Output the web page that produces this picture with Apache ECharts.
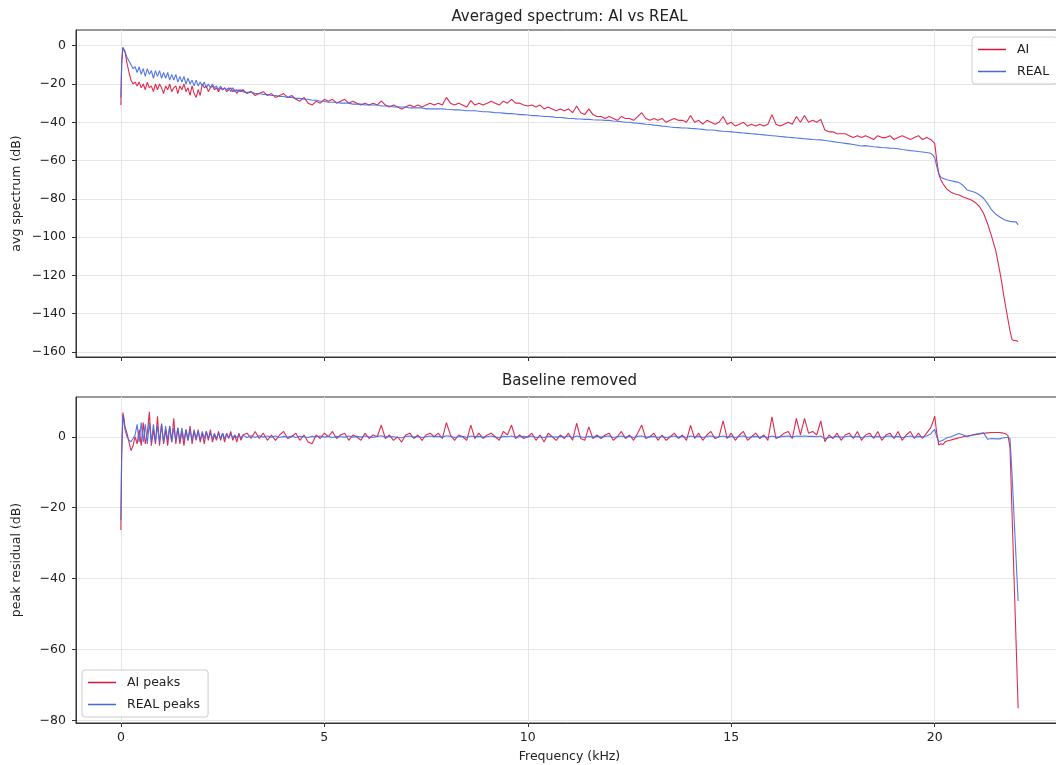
<!DOCTYPE html>
<html><head><meta charset="utf-8">
<script src="https://cdn.jsdelivr.net/npm/echarts@6/dist/echarts.min.js"></script>
<style>html,body{margin:0;padding:0;background:#fff;}#c{width:1056px;height:765px;}</style>
</head><body><div id="c"></div>
<script>
// Frequency grid (kHz)
const freq = [
 0, 0.02, 0.05, 0.08, 0.1, 0.15, 0.2, 0.25, 0.3, 0.35,
 0.4, 0.45, 0.5, 0.55, 0.6, 0.65, 0.7, 0.75, 0.8, 0.85,
 0.9, 0.95, 1.0, 1.05, 1.1, 1.15, 1.2, 1.25, 1.3, 1.35,
 1.4, 1.45, 1.5, 1.55, 1.6, 1.65, 1.7, 1.75, 1.8, 1.85,
 1.9, 1.95, 2.0, 2.05, 2.1, 2.15, 2.2, 2.25, 2.3, 2.35,
 2.4, 2.45, 2.5, 2.55, 2.6, 2.65, 2.7, 2.75, 2.8, 2.85,
 2.9, 2.95, 3.0, 3.1, 3.2, 3.3, 3.4, 3.5, 3.6, 3.7,
 3.8, 3.9, 4.0, 4.1, 4.2, 4.3, 4.4, 4.5, 4.6, 4.7,
 4.8, 4.9, 5.0, 5.1, 5.2, 5.3, 5.4, 5.5, 5.6, 5.7,
 5.8, 5.9, 6.0, 6.1, 6.2, 6.3, 6.4, 6.5, 6.6, 6.7,
 6.8, 6.9, 7.0, 7.1, 7.2, 7.3, 7.4, 7.5, 7.6, 7.7,
 7.8, 7.9, 8.0, 8.1, 8.2, 8.3, 8.4, 8.5, 8.6, 8.7,
 8.8, 8.9, 9.0, 9.1, 9.2, 9.3, 9.4, 9.5, 9.6, 9.7,
 9.8, 9.9, 10.0, 10.1, 10.2, 10.3, 10.4, 10.5, 10.6, 10.7,
 10.8, 10.9, 11.0, 11.1, 11.2, 11.3, 11.4, 11.5, 11.6, 11.7,
 11.8, 11.9, 12.0, 12.1, 12.2, 12.3, 12.4, 12.5, 12.6, 12.7,
 12.8, 12.9, 13.0, 13.1, 13.2, 13.3, 13.4, 13.5, 13.6, 13.7,
 13.8, 13.9, 14.0, 14.1, 14.2, 14.3, 14.4, 14.5, 14.6, 14.7,
 14.8, 14.9, 15.0, 15.1, 15.2, 15.3, 15.4, 15.5, 15.6, 15.7,
 15.8, 15.9, 16.0, 16.1, 16.2, 16.3, 16.4, 16.5, 16.6, 16.7,
 16.8, 16.9, 17.0, 17.1, 17.2, 17.3, 17.4, 17.5, 17.6, 17.7,
 17.8, 17.9, 18.0, 18.1, 18.2, 18.3, 18.4, 18.5, 18.6, 18.7,
 18.8, 18.9, 19.0, 19.1, 19.2, 19.3, 19.4, 19.5, 19.6, 19.7,
 19.8, 19.9, 19.95, 20.0, 20.05, 20.1, 20.15, 20.2, 20.25, 20.3,
 20.4, 20.5, 20.6, 20.7, 20.8, 20.9, 21.0, 21.1, 21.2, 21.3,
 21.4, 21.5, 21.6, 21.65, 21.7, 21.75, 21.8, 21.85, 21.9, 21.95,
 22.0, 22.05
];

// Averaged spectrum, AI (dB)
const aiAvg = [
 -31, -10, -1, 0, -3, -9, -14, -18, -20, -19,
 -21, -19, -22, -20, -23, -19, -22, -21, -24, -20,
 -23, -20, -22, -25, -21, -23, -20, -24, -22, -21,
 -25, -21, -23, -20, -24, -22, -26, -21, -25, -27,
 -23, -26, -20, -22, -21, -24, -22, -21, -23, -22,
 -24, -22, -23, -22, -24, -23, -22, -24, -23, -25,
 -23, -24, -23, -25, -24, -26, -25, -24, -26, -25,
 -27, -26, -25, -27, -26, -28, -29, -27, -30, -31,
 -29, -30, -28, -29, -28, -30, -29, -28, -30, -29,
 -30, -31, -30, -31, -30, -31, -28.8, -31, -32, -31,
 -32, -33, -32, -31, -32, -31, -32, -31, -30, -31,
 -30, -31, -27, -30, -31, -30, -31, -32, -28.7, -31,
 -30, -31, -30, -29, -30, -31, -29, -30, -28, -30,
 -30, -31, -31.5, -31, -32, -31, -33, -32, -33, -34,
 -33, -34, -33, -35, -31.5, -35, -36, -33, -36, -37,
 -37, -38, -37, -38, -39, -37, -38, -38, -39, -37,
 -35, -38, -39, -38, -39, -38, -40, -39, -38, -39,
 -39, -40, -36.5, -40, -39, -41, -39, -40, -41, -40,
 -37, -41, -40, -42, -41, -40, -42, -41, -42, -41,
 -42, -41, -36, -41, -42, -41, -40, -41, -37, -40,
 -36.5, -40, -39, -40, -38.5, -44, -45, -45, -46, -46,
 -46, -47, -48, -47, -48, -47, -48, -49, -47, -48,
 -48, -47, -49, -48, -47, -48, -49, -48, -47, -49,
 -48, -49, -50, -51, -60, -67, -70, -72, -73.5, -75,
 -76.5, -77.5, -78, -79, -79.8, -80.6, -82, -84, -87.5, -93,
 -99.7, -107, -118, -124, -131, -137, -143, -149, -153.5, -154,
 -154, -154.5
];

// Averaged spectrum, REAL (dB)
const realAvg = [
 -27, -8, -1, 0, -3, -6, -8, -10, -12, -11,
 -14, -11, -15, -12, -16, -12, -15, -13, -17, -13,
 -16, -13, -17, -14, -17, -14, -18, -15, -18, -15,
 -19, -16, -19, -16, -20, -17, -20, -18, -21, -18,
 -21, -19, -21, -19, -22, -20, -22, -20, -22, -21,
 -23, -21, -23, -22, -23, -22, -24, -22, -24, -23,
 -24, -23, -24, -24.5, -24, -25, -25, -25.5, -25.5, -26,
 -26, -26.5, -26.5, -27, -27, -27.5, -27.5, -28, -28, -28.5,
 -28.5, -29, -29, -29.5, -29.5, -29.5, -30, -30, -30, -30.5,
 -30.5, -30.5, -31, -31, -31, -31, -31.5, -31.5, -31.5, -32,
 -32, -32, -32, -32.5, -32.5, -32.5, -32.5, -33, -33, -33,
 -33, -33, -33.2, -33.3, -33.5, -33.5, -33.7, -34, -34, -34,
 -34.2, -34.5, -34.5, -34.7, -35, -35, -35.2, -35.5, -35.5, -35.7,
 -36, -36, -36.2, -36.5, -36.5, -36.7, -37, -37, -37.2, -37.5,
 -37.5, -37.7, -38, -38, -38.2, -38.3, -38.5, -38.5, -38.7, -38.8,
 -38.8, -39, -39, -39.3, -39.5, -39.7, -40, -40, -40.3, -40.5,
 -40.7, -41, -41.2, -41.5, -41.7, -42, -42.2, -42.5, -42.7, -42.8,
 -43, -43, -43.2, -43.3, -43.5, -43.7, -44, -44, -44.2, -44.5,
 -44.7, -44.8, -45, -45.2, -45.4, -45.6, -45.8, -46, -46.2, -46.4,
 -46.6, -46.8, -47, -47.2, -47.4, -47.6, -47.8, -48, -48.2, -48.4,
 -48.6, -48.8, -49, -49.1, -49.2, -49.5, -49.8, -50.1, -50.4, -50.7,
 -51, -51.3, -51.6, -52, -52.4, -52.2, -52.5, -52.8, -53, -53.2,
 -53.3, -53.5, -53.6, -53.8, -54.2, -54.5, -54.8, -55, -55.3, -55.5,
 -55.8, -56.2, -57, -58.5, -63, -67, -68.5, -69.3, -69.6, -70,
 -70.5, -71, -71.5, -73, -75.4, -76, -76.7, -78, -79.7, -82.5,
 -85.8, -88, -89.5, -90.1, -90.8, -91.2, -91.5, -91.8, -91.9, -92,
 -92, -93.6
];

// Baseline removed, AI peaks (dB)
const aiRes = [
 -26.3, -5, 6.8, 5, 3, 1, -1.5, -3.9, -2.5, 0,
 -2, 2, -2.5, 4, -2, 1, 7, -2.5, 2, -2,
 5.8, -2.5, 3.7, -2, 2, -2.5, 3, -1.5, 5.2, -2,
 2.5, -2, 1.5, -2.5, 2, -1, 3, -2, 1.5, -1,
 2, -1.5, 1, -2, 1.5, -1, 2, -1.5, 0.5, -1,
 1.5, -1, 1, -1.5, 1, -0.5, 1.5, -1, 0.5, -1.5,
 1, -1, 0.5, 1, -0.5, 1.5, -0.5, 1, -1, 0.5,
 -1, 0.5, 1.5, -0.5, 0, 1, -1, 0.5, -1.5, -2,
 0.5, -0.5, 1, 0, 1.5, -0.5, 0.5, 1, -1, 0.5,
 0, -1, 1, -0.5, 0.5, 0, 3.3, -0.5, 0.5, -1,
 0, -1.5, 0.5, 1, -0.5, 0.5, -1, 0.5, 1, 0,
 1, -0.5, 4, 0.5, -1, 0.5, 0, -1, 3.3, -0.5,
 1, -0.5, 0.5, 1, 0, -1, 1.5, 0.5, 3.3, -0.5,
 0.5, -0.5, 0, 1, -1, 0.5, -1.5, 1, 0, -1,
 0.5, -0.5, 1, -1, 3.8, -0.5, -1, 2.8, -0.5, 0.5,
 -0.5, 0.5, 1, -1, 0, 1.5, -0.5, 0.5, -1, 1,
 3.3, -0.5, 0, 1, -1, 0.5, -1, 0, 1, -0.5,
 0.5, -1, 3.2, -0.5, 1, -1, 0.5, 1.5, -0.5, 0,
 4.5, -0.5, 1, -1, 0.5, 1.5, -1, 0, 1, -0.5,
 0.5, -1, 5.6, -0.5, 0, 1, 1.5, -0.5, 5.2, 0.5,
 5.2, 1, 1.5, 0.5, 4.5, -1.4, 0.5, -0.5, 1, -1,
 0.5, 1, -0.5, 1.5, -1, 0.5, 1, -0.5, 1.5, -1,
 0.5, 1, -0.5, 1.5, -1, 0.5, 1.5, -0.5, 1, -0.5,
 1, 2.5, 4, 5.8, 1, -2.3, -2, -2.2, -1.5, -1.2,
 -0.9, -0.6, -0.3, 0, 0.2, 0.4, 0.6, 0.8, 1, 1.1,
 1.2, 1.2, 1.2, 1.1, 1.0, 0.8, 0.3, -3, -21.5, -40,
 -58, -76.5
];

// Baseline removed, REAL peaks (dB)
const realRes = [
 -23.5, -4, 6, 4, 2, 0, -1, -1.4, -0.5, 0.5,
 3.5, -1.5, 4, -1.5, 3.5, -2, 4, -1.5, 3.5, -1.5,
 3, -1.5, 3.5, -1.5, 3, -1, 3, -1.5, 2.5, -1,
 2.5, -1, 2.5, -1, 2, -1, 2, -1, 2, -0.5,
 1.5, -1, 1.5, -0.5, 1.5, -0.5, 1, -0.5, 1, -0.5,
 1, -0.5, 1, -0.5, 0.8, -0.3, 0.8, -0.3, 0.5, -0.3,
 0.5, -0.3, 0.4, -0.2, 0.3, -0.2, 0.3, -0.1, 0.2, -0.1,
 0.2, -0.2, 0.1, -0.1, 0.2, -0.2, 0.1, 0, -0.2, 0.1,
 0, 0.2, -0.1, 0.1, -0.2, 0.1, 0, -0.1, 0.2, -0.1,
 0.1, -0.1, 0.2, 0, -0.2, 0.1, 0.3, -0.1, 0.1, 0,
 -0.2, -0.3, 0.1, 0.2, -0.1, 0.1, -0.2, 0, 0.2, 0,
 0.1, -0.1, 0.3, 0.1, -0.2, 0, 0.1, -0.2, 0.2, 0,
 0.1, -0.1, 0, 0.2, -0.1, -0.2, 0.1, 0, 0.2, -0.1,
 0, 0.1, -0.1, 0.2, -0.2, 0, -0.2, 0.1, 0, -0.1,
 0.1, -0.1, 0.2, -0.2, 0.2, 0, -0.2, 0.1, -0.1, 0.1,
 -0.1, 0.1, 0.2, -0.2, 0, 0.2, -0.1, 0.1, -0.2, 0.1,
 0.2, -0.1, 0, 0.1, -0.2, 0.1, -0.2, 0, 0.2, -0.1,
 0.1, -0.2, 0.2, 0, 0.1, -0.2, 0.1, 0.2, -0.1, 0,
 0.2, -0.1, 0.1, -0.2, 0.1, 0.2, -0.2, 0, 0.1, -0.1,
 0.1, -0.2, 0.2, -0.1, 0, 0.1, 0.2, -0.1, 0.2, 0.1,
 0.2, 0.1, 0.1, 0, 0.2, -0.6, -0.2, -0.1, 0.1, -0.1,
 0, 0.2, -0.1, 0.1, -0.2, 0, 0.2, -0.1, 0.1, -0.2,
 0.1, 0.2, -0.1, 0.1, -0.2, 0, 0.2, -0.1, 0.1, 0,
 0.2, 0.8, 1.5, 2.1, 0, -1.4, -1.2, -1, -0.6, -0.3,
 0, 0.5, 0.9, 0.5, 0, 0.4, 0.7, 0.9, 1.1, -0.7,
 -0.5, -0.6, -0.6, -0.4, -0.3, -0.2, -0.2, -0.5, -10.5, -22.5,
 -34.5, -46.3
];

const xTicks = [0, 5, 10, 15, 20];
const topYTicks = [0, -20, -40, -60, -80, -100, -120, -140, -160];
const botYTicks = [0, -20, -40, -60, -80];

const FONT = 'DejaVu Sans';
const RED = '#DC143C';
const BLUE = '#4169E1';
const pairs = arr => freq.map((f, i) => [f, arr[i]]);
const minusFmt = v => String(v).replace('-', '\u2212');

const chart = echarts.init(document.getElementById('c'), null, {renderer: 'canvas'});

function xAxisCfg(gi, showLabels) {
  return {
    type: 'value', gridIndex: gi, min: -1.1025, max: 23.1525,
    axisLine: {show: true, onZero: false, lineStyle: {color: '#333', width: 1}},
    axisTick: {show: true, length: 4, customValues: xTicks, lineStyle: {color: '#333'}},
    axisLabel: {show: showLabels, customValues: xTicks, fontFamily: FONT, fontSize: 12.5, color: '#222', margin: 8, formatter: minusFmt},
    splitLine: {show: true, lineStyle: {color: '#e6e6e6', width: 1}}
  };
}
function yAxisCfg(gi, min, max, ticks) {
  return {
    type: 'value', gridIndex: gi, min: min, max: max,
    axisLine: {show: true, onZero: false, lineStyle: {color: '#333', width: 1}},
    axisTick: {show: true, length: 4, customValues: ticks, lineStyle: {color: '#333'}},
    axisLabel: {show: true, customValues: ticks, fontFamily: FONT, fontSize: 12.5, color: '#222', margin: 10, formatter: minusFmt},
    splitLine: {show: true, lineStyle: {color: '#e6e6e6', width: 1}}
  };
}
function lineSeries(name, data, color, xi) {
  return {
    name: name, type: 'line', xAxisIndex: xi, yAxisIndex: xi,
    data: pairs(data), symbol: 'none', showSymbol: false, animation: false, clip: true,
    lineStyle: {color: color, width: 1.1, opacity: 0.9}, itemStyle: {color: color}
  };
}
function legendCfg(names, left, top) {
  return {
    data: names.map(n => ({name: n, icon: 'rect'})), orient: 'vertical', left: left, top: top,
    itemWidth: 28, itemHeight: 1.5, itemGap: 7,
    padding: [5, 8, 5, 6],
    backgroundColor: 'rgba(255,255,255,0.85)', borderColor: '#cccccc', borderWidth: 1, borderRadius: 3,
    textStyle: {fontFamily: FONT, fontSize: 12.5, color: '#222', padding: [0, 0, 0, 6], lineHeight: 15}
  };
}

const option = {
  backgroundColor: '#ffffff',
  animation: false,
  textStyle: {fontFamily: FONT},
  grid: [
    {left: 76, top: 30, width: 987, height: 327, outerBoundsMode: 'none', containLabel: false, show: true, borderColor: '#333', borderWidth: 1, backgroundColor: 'transparent'},
    {left: 76, top: 397, width: 987, height: 326, outerBoundsMode: 'none', containLabel: false, show: true, borderColor: '#333', borderWidth: 1, backgroundColor: 'transparent'}
  ],
  xAxis: [xAxisCfg(0, false), xAxisCfg(1, true)],
  yAxis: [yAxisCfg(0, -162.6, 8.2, topYTicks), yAxisCfg(1, -80.65, 11.2, botYTicks)],
  legend: [
    legendCfg(['AI', 'REAL'], 972, 37),
    legendCfg(['AI peaks', 'REAL peaks'], 82, 670)
  ],
  series: [
    lineSeries('AI', aiAvg, RED, 0),
    lineSeries('REAL', realAvg, BLUE, 0),
    lineSeries('AI peaks', aiRes, RED, 1),
    lineSeries('REAL peaks', realRes, BLUE, 1)
  ],
  graphic: [
    {type: 'text', x: 569.5, y: 17, style: {text: 'Averaged spectrum: AI vs REAL', font: '15px "DejaVu Sans"', fill: '#222', textAlign: 'center', textVerticalAlign: 'middle'}},
    {type: 'text', x: 569.5, y: 381, style: {text: 'Baseline removed', font: '15px "DejaVu Sans"', fill: '#222', textAlign: 'center', textVerticalAlign: 'middle'}},
    {type: 'text', x: 569.5, y: 757, style: {text: 'Frequency (kHz)', font: '12.5px "DejaVu Sans"', fill: '#222', textAlign: 'center', textVerticalAlign: 'middle'}},
    {type: 'text', x: 17, y: 193.5, rotation: Math.PI / 2, style: {text: 'avg spectrum (dB)', font: '12.5px "DejaVu Sans"', fill: '#222', textAlign: 'center', textVerticalAlign: 'middle'}},
    {type: 'text', x: 17, y: 560, rotation: Math.PI / 2, style: {text: 'peak residual (dB)', font: '12.5px "DejaVu Sans"', fill: '#222', textAlign: 'center', textVerticalAlign: 'middle'}}
  ]
};
chart.setOption(option);
</script>
</body></html>
